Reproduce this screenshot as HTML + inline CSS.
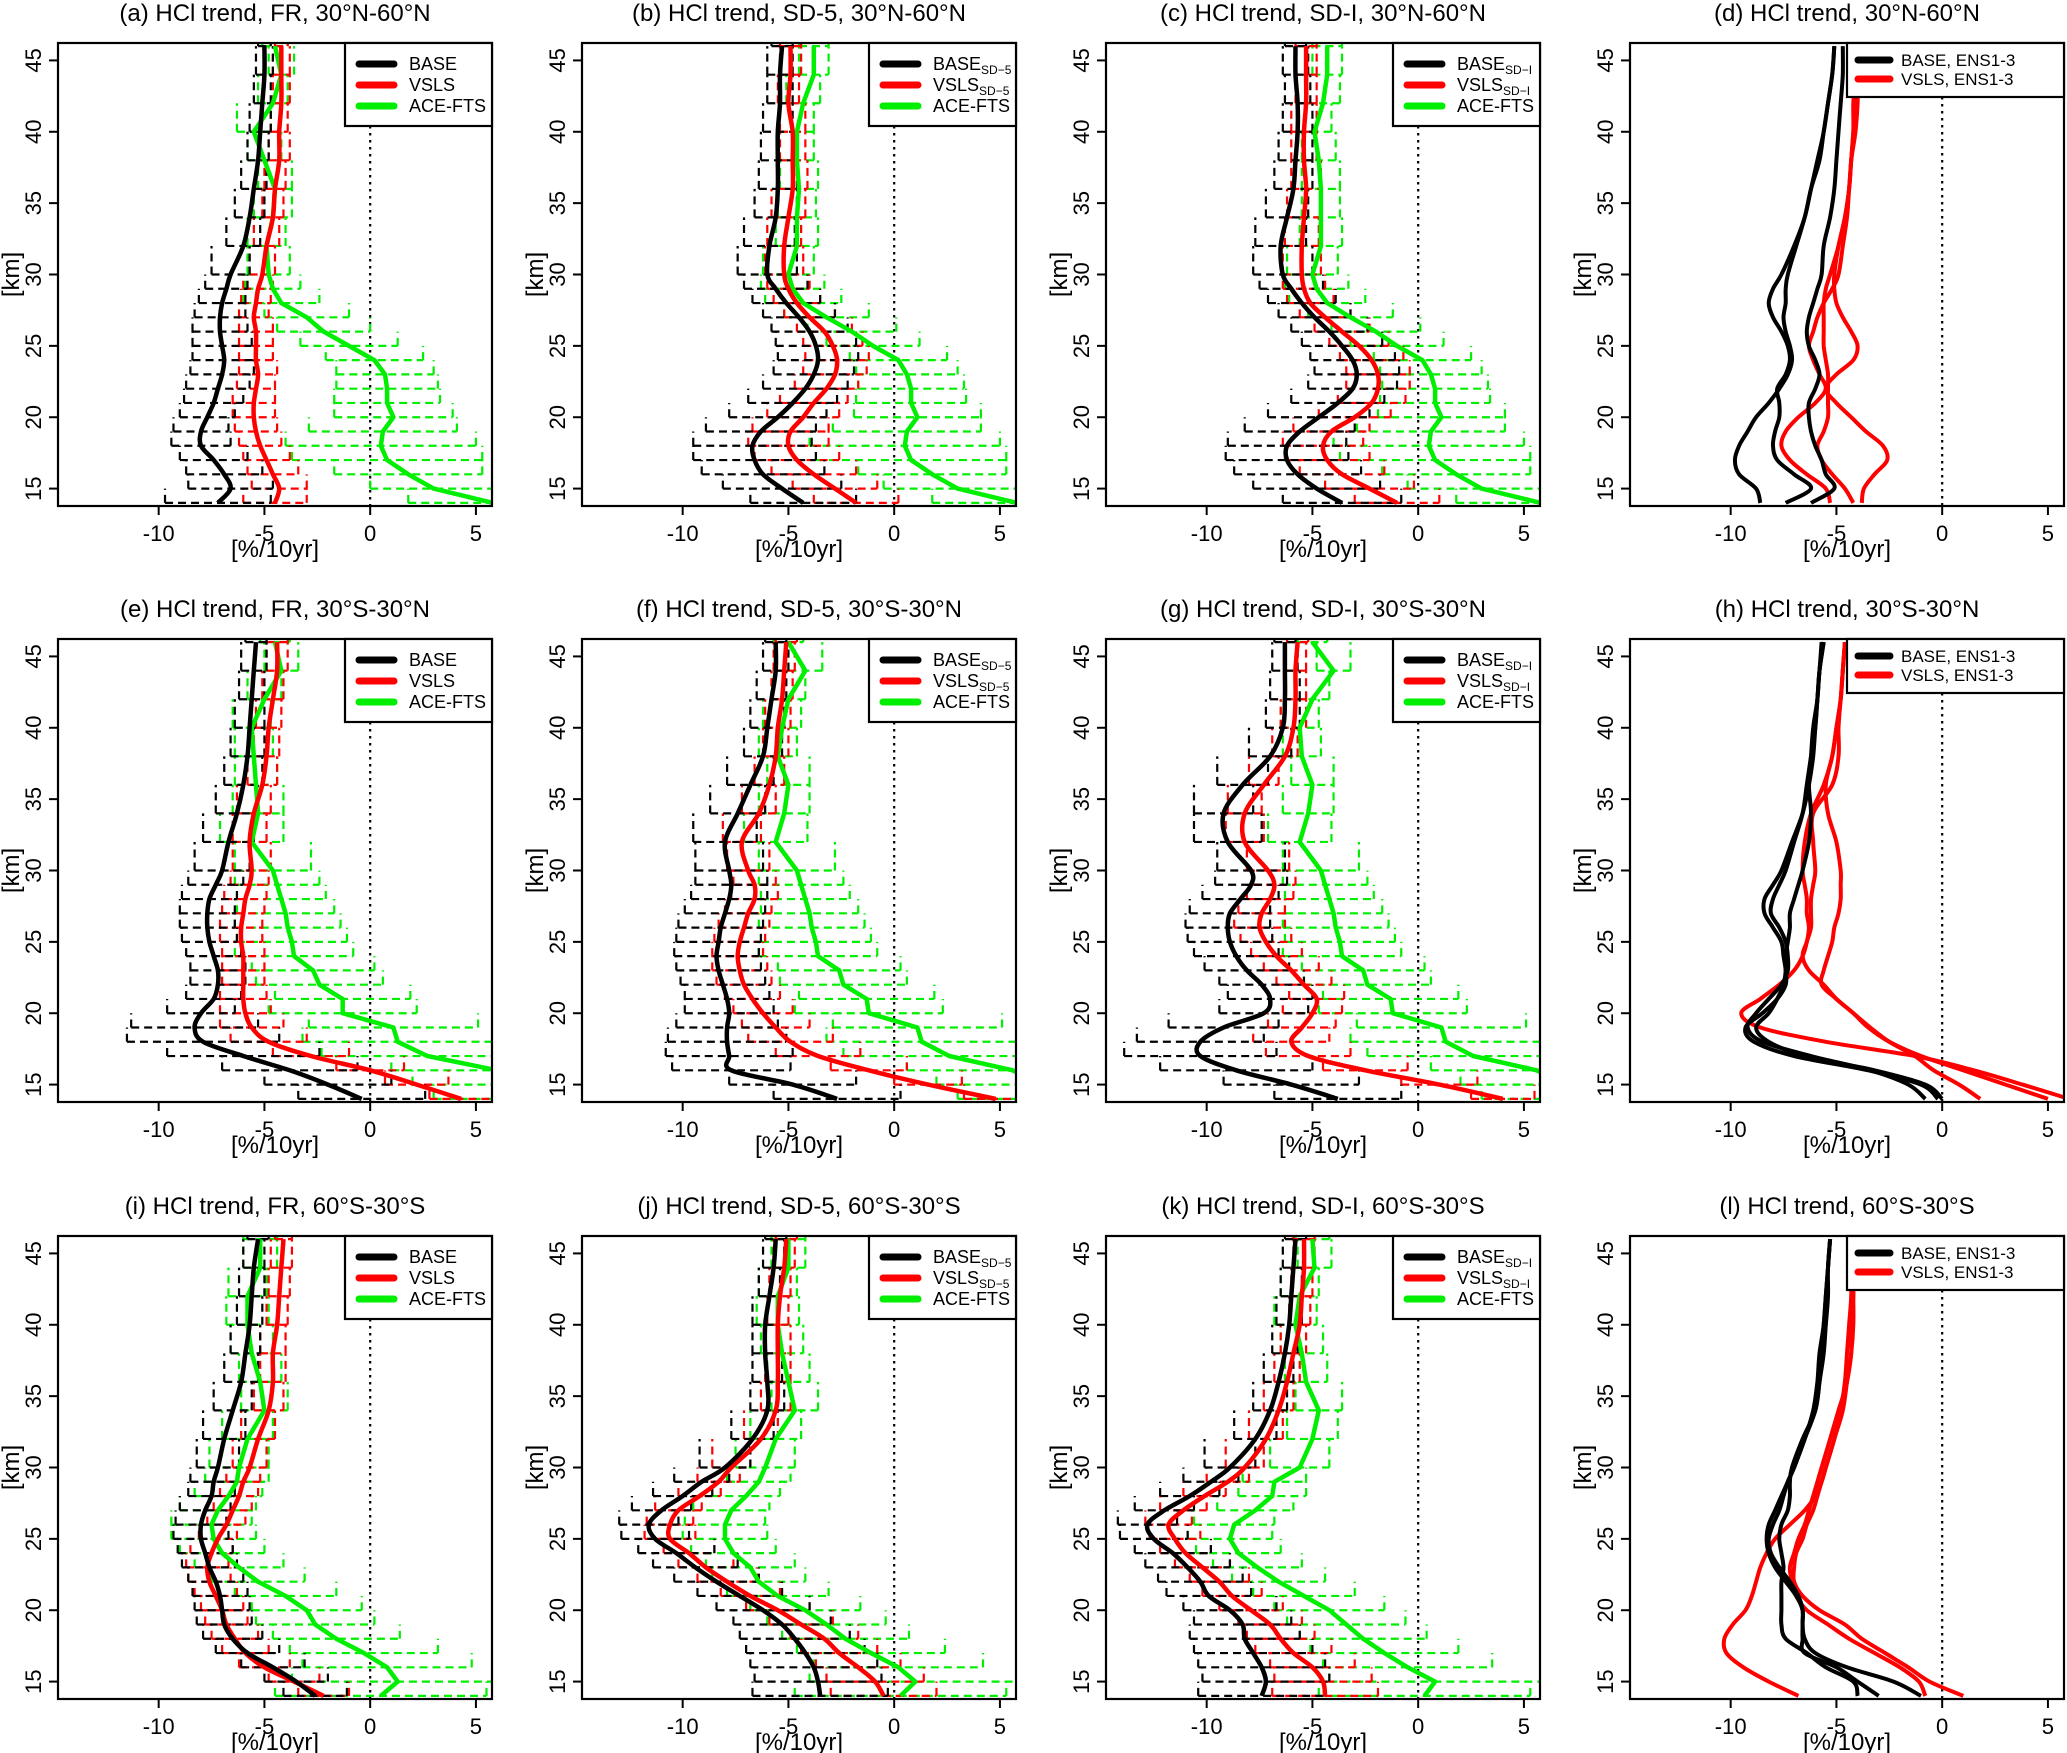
<!DOCTYPE html>
<html><head><meta charset="utf-8">
<style>
html,body{margin:0;padding:0;background:#fff;}
svg{display:block;font-family:"Liberation Sans",Arial,sans-serif;}
</style></head>
<body>
<svg id="fig" width="2067" height="1753" viewBox="0 0 2067 1753" xmlns="http://www.w3.org/2000/svg"></svg>
<script>
const alt=[14,15,16,17,18,19,20,21,22,23,24,25,26,27,28,29,30,32,34,36,38,40,42,44,46];
const xTicks=[-10,-5,0,5];
const yTicks=[15,20,25,30,35,40,45];
const xTickLabels=["-10","-5","0","5"];
const yTickLabels=["15","20","25","30","35","40","45"];

// (a)
const aBase=[-7.2,-6.6,-6.9,-7.4,-8.0,-8.0,-7.7,-7.4,-7.2,-7.0,-6.9,-7.0,-7.1,-7.1,-7.0,-6.8,-6.6,-6.0,-5.7,-5.5,-5.3,-5.2,-5.1,-5.0,-5.0];
const aVsls=[-4.5,-4.3,-4.6,-4.9,-5.2,-5.4,-5.5,-5.5,-5.4,-5.3,-5.4,-5.4,-5.4,-5.5,-5.4,-5.3,-5.1,-4.9,-4.6,-4.5,-4.3,-4.3,-4.2,-4.2,-4.2];
const aAce=[5.8,3.0,1.8,0.8,0.5,0.6,1.1,0.8,0.8,0.7,0.2,-1.0,-2.2,-3.0,-4.2,-4.6,-4.8,-4.9,-4.6,-4.5,-5.0,-5.5,-4.6,-4.2,-4.5];
const aBaseErr=[2.5,2.0,1.8,1.6,1.4,1.3,1.3,1.4,1.5,1.5,1.5,1.4,1.3,1.2,1.1,1.0,0.9,0.8,0.7,0.6,0.5,0.5,0.4,0.4,0.3];
const aVslsErr=[1.5,1.3,1.2,1.1,1.0,1.0,1.0,1.0,0.9,0.9,0.8,0.8,0.8,0.7,0.7,0.7,0.6,0.6,0.5,0.5,0.5,0.4,0.4,0.4,0.3];
const aAceErr=[4.0,3.0,3.5,4.5,4.5,3.5,2.8,2.5,2.4,2.3,2.3,2.3,2.2,2.0,1.8,1.3,1.0,0.9,0.9,0.8,0.8,0.8,0.7,0.6,0.6];
// (b)
const bBase=[-4.3,-5.3,-6.2,-6.6,-6.7,-6.3,-5.5,-4.8,-4.2,-3.8,-3.6,-3.7,-4.0,-4.5,-5.1,-5.6,-6.0,-5.9,-5.6,-5.5,-5.5,-5.5,-5.4,-5.4,-5.3];
const bVsls=[-1.8,-2.8,-3.8,-4.6,-5.0,-4.9,-4.3,-3.8,-3.2,-2.8,-2.7,-2.9,-3.3,-4.0,-4.6,-5.0,-5.2,-5.2,-5.0,-4.8,-4.8,-4.8,-5.0,-4.9,-4.9];
const bAce=[5.8,3.0,1.8,0.8,0.5,0.6,1.1,0.8,0.8,0.6,0.2,-1.0,-2.0,-3.2,-4.3,-4.8,-5.0,-4.6,-4.6,-4.5,-4.6,-4.6,-4.3,-3.8,-3.8];
const bBaseErr=[2.5,2.8,2.9,2.9,2.8,2.6,2.3,2.1,2.0,1.9,1.9,1.9,1.8,1.7,1.6,1.5,1.4,1.2,1.0,0.9,0.8,0.7,0.6,0.6,0.5];
const bVslsErr=[2.0,2.0,2.0,2.0,1.9,1.8,1.7,1.6,1.5,1.5,1.5,1.4,1.3,1.2,1.1,1.0,0.9,0.8,0.8,0.7,0.6,0.6,0.5,0.5,0.5];
const bAceErr=[4.0,3.5,3.5,4.5,4.5,3.5,3.0,2.6,2.5,2.4,2.3,2.2,2.1,2.0,1.8,1.5,1.2,1.0,0.9,0.9,0.8,0.8,0.8,0.7,0.7];
// (c)
const cBase=[-3.6,-4.8,-5.7,-6.2,-6.2,-5.6,-4.7,-3.8,-3.1,-2.9,-3.1,-3.6,-4.2,-4.9,-5.5,-6.0,-6.4,-6.5,-6.2,-5.9,-5.8,-5.7,-5.7,-5.8,-5.8];
const cVsls=[-1.0,-2.3,-3.6,-4.3,-4.5,-4.1,-3.0,-2.2,-1.9,-1.9,-2.2,-2.8,-3.6,-4.4,-5.1,-5.4,-5.5,-5.5,-5.4,-5.3,-5.4,-5.4,-5.3,-5.3,-5.3];
const cAce=[5.8,3.0,1.8,0.8,0.5,0.6,1.1,0.8,0.8,0.6,0.2,-1.0,-2.0,-3.2,-4.3,-4.8,-5.0,-4.6,-4.6,-4.6,-4.7,-4.9,-4.5,-4.3,-4.3];
const cBaseErr=[2.8,3.0,3.0,2.9,2.8,2.6,2.4,2.2,2.1,2.0,2.0,1.9,1.8,1.7,1.6,1.5,1.4,1.2,1.0,0.9,0.8,0.7,0.6,0.6,0.5];
const cVslsErr=[2.0,2.1,2.0,2.0,1.9,1.8,1.7,1.6,1.5,1.5,1.5,1.4,1.3,1.2,1.1,1.0,0.9,0.8,0.8,0.7,0.6,0.6,0.5,0.5,0.5];
const cAceErr=[4.0,3.5,3.5,4.5,4.5,3.5,3.0,2.6,2.5,2.4,2.3,2.2,2.1,2.0,1.8,1.5,1.2,1.0,0.9,0.9,0.8,0.8,0.8,0.7,0.7];
// (d) ensembles
const dBase1=[-8.6,-8.8,-9.6,-9.8,-9.6,-9.2,-8.8,-8.2,-7.7,-7.3,-7.1,-7.2,-7.4,-7.5,-7.4,-7.4,-7.3,-6.9,-6.5,-6.2,-5.8,-5.6,-5.4,-5.2,-5.1];
const dBase2=[-7.4,-6.2,-7.0,-7.8,-8.0,-7.9,-7.7,-7.7,-7.8,-7.4,-7.2,-7.3,-7.6,-8.0,-8.2,-8.0,-7.6,-7.0,-6.5,-6.2,-5.9,-5.6,-5.4,-5.2,-5.1];
const dBase3=[-6.2,-5.1,-5.5,-5.7,-6.0,-6.2,-6.3,-6.3,-6.0,-5.8,-6.0,-6.3,-6.4,-6.3,-6.1,-5.9,-5.7,-5.6,-5.3,-5.1,-5.0,-4.9,-4.8,-4.7,-4.7];
const dVsls1=[-5.3,-5.5,-6.4,-7.2,-7.6,-7.4,-6.8,-6.0,-5.5,-5.8,-6.1,-6.3,-6.1,-5.9,-5.6,-5.2,-4.9,-4.7,-4.5,-4.4,-4.3,-4.2,-4.2,-4.1,-4.1];
const dVsls2=[-3.8,-3.7,-3.2,-2.6,-2.8,-3.6,-4.3,-5.0,-5.5,-5.0,-4.2,-4.0,-4.3,-4.7,-5.0,-5.1,-5.1,-4.9,-4.6,-4.4,-4.3,-4.1,-4.0,-4.0,-4.0];
const dVsls3=[-4.2,-4.6,-5.2,-5.7,-5.9,-5.6,-5.4,-5.4,-5.4,-5.4,-5.5,-5.6,-5.6,-5.6,-5.6,-5.5,-5.3,-4.9,-4.6,-4.4,-4.3,-4.2,-4.1,-4.1,-4.1];
// (e)
const eBase=[-0.4,-2.0,-3.8,-6.0,-7.9,-8.3,-8.0,-7.4,-7.2,-7.2,-7.4,-7.6,-7.7,-7.7,-7.6,-7.3,-7.0,-6.7,-6.3,-6.0,-5.8,-5.7,-5.6,-5.5,-5.4];
const eVsls=[4.3,2.2,0.0,-2.8,-4.8,-5.6,-5.9,-6.0,-6.0,-6.0,-6.0,-6.1,-6.1,-6.0,-5.9,-5.7,-5.6,-5.7,-5.5,-5.1,-4.9,-4.8,-4.6,-4.4,-4.4];
const eAce=[8.0,7.0,6.0,2.7,1.3,1.1,-1.3,-1.3,-2.4,-2.7,-3.6,-3.7,-3.9,-4.0,-4.2,-4.4,-4.6,-5.6,-5.3,-5.4,-5.5,-5.6,-5.0,-4.2,-4.5];
const eBaseErr=[3.0,3.0,3.2,3.6,3.6,3.0,1.6,1.3,1.3,1.3,1.3,1.3,1.3,1.3,1.3,1.3,1.3,1.2,1.0,0.9,0.8,0.7,0.6,0.6,0.5];
const eVslsErr=[1.5,1.5,1.6,1.8,1.8,1.5,1.2,1.1,1.0,1.0,1.0,1.0,1.0,1.0,1.0,0.9,0.9,0.8,0.8,0.7,0.6,0.6,0.5,0.5,0.5];
const eAceErr=[5.0,5.0,5.0,5.0,4.5,4.0,3.5,3.2,3.0,2.9,2.8,2.6,2.5,2.3,2.1,2.0,1.8,1.5,1.2,1.0,0.9,0.9,0.8,0.8,0.7];
// (f)
const fBase=[-2.7,-4.8,-7.7,-7.8,-7.9,-7.9,-7.8,-7.9,-8.1,-8.3,-8.4,-8.3,-8.2,-8.0,-7.8,-7.7,-7.8,-8.0,-7.4,-6.8,-6.2,-6.0,-5.8,-5.6,-5.6];
const fVsls=[4.8,1.6,-1.2,-3.6,-4.9,-5.6,-6.2,-6.7,-7.1,-7.3,-7.4,-7.3,-7.1,-6.9,-6.6,-6.6,-6.9,-7.2,-6.4,-5.9,-5.6,-5.5,-5.3,-5.2,-5.1];
const fAce=[8.0,7.0,5.6,2.6,1.3,1.1,-1.2,-1.3,-2.4,-2.6,-3.6,-3.7,-3.9,-4.0,-4.2,-4.4,-4.6,-5.6,-5.2,-5.0,-5.5,-5.3,-5.0,-4.2,-5.0];
const fBaseErr=[3.0,3.0,2.8,3.0,2.8,2.4,2.1,2.0,2.0,2.0,2.0,2.0,2.0,1.9,1.8,1.7,1.6,1.5,1.3,1.1,0.9,0.8,0.7,0.6,0.5];
const fVslsErr=[1.5,1.6,1.8,2.0,2.0,1.6,1.4,1.3,1.3,1.3,1.2,1.2,1.2,1.1,1.1,1.0,1.0,0.9,0.8,0.7,0.6,0.6,0.5,0.5,0.5];
const fAceErr=[5.0,5.0,5.0,5.0,4.5,4.0,3.5,3.2,3.0,2.9,2.8,2.6,2.5,2.3,2.1,2.0,1.8,1.5,1.2,1.0,0.9,0.9,0.8,0.8,0.7];
// (g)
const gBase=[-3.8,-6.0,-8.6,-10.3,-10.3,-9.2,-7.3,-7.0,-7.4,-8.1,-8.6,-8.9,-9.0,-8.9,-8.4,-7.9,-7.9,-9.0,-9.2,-8.3,-7.0,-6.4,-6.3,-6.3,-6.3];
const gVsls=[4.0,1.0,-2.5,-5.2,-6.0,-5.5,-5.0,-4.8,-5.4,-6.0,-6.7,-7.2,-7.5,-7.4,-7.0,-6.8,-7.1,-8.2,-8.2,-7.3,-6.3,-5.9,-5.8,-5.8,-5.7];
const gAce=[8.0,7.0,5.6,2.6,1.3,1.1,-1.2,-1.3,-2.4,-2.6,-3.6,-3.7,-3.9,-4.0,-4.2,-4.4,-4.6,-5.6,-5.2,-5.0,-5.5,-5.6,-5.0,-4.0,-5.0];
const gBaseErr=[3.0,3.2,3.6,3.6,3.0,2.6,2.1,2.0,2.0,2.0,2.0,2.0,2.0,1.9,1.8,1.7,1.6,1.6,1.4,1.2,1.0,0.8,0.7,0.6,0.5];
const gVslsErr=[1.5,1.8,2.0,2.0,1.8,1.6,1.4,1.3,1.3,1.3,1.2,1.2,1.2,1.1,1.1,1.0,1.0,0.9,0.8,0.7,0.6,0.6,0.5,0.5,0.5];
const gAceErr=[5.0,5.0,5.0,5.0,4.5,4.0,3.5,3.2,3.0,2.9,2.8,2.6,2.5,2.3,2.1,2.0,1.8,1.5,1.2,1.0,0.9,0.9,0.8,0.8,0.7];
// (h) ensembles
const hBase1=[-0.2,-1.0,-3.5,-7.0,-8.9,-9.3,-8.5,-7.8,-7.4,-7.4,-7.5,-7.6,-8.0,-8.4,-8.4,-8.0,-7.6,-7.1,-6.6,-6.3,-6.1,-6.0,-5.9,-5.8,-5.6];
const hBase2=[0.0,-0.8,-3.2,-6.5,-8.2,-8.8,-8.2,-7.8,-7.5,-7.4,-7.4,-7.3,-7.2,-7.2,-7.0,-6.8,-6.6,-6.3,-6.2,-6.3,-6.2,-6.1,-5.9,-5.8,-5.6];
const hBase3=[-0.8,-1.6,-3.4,-6.2,-8.5,-9.2,-8.8,-8.2,-7.6,-7.3,-7.3,-7.4,-7.7,-8.1,-8.0,-7.7,-7.4,-7.0,-6.6,-6.4,-6.2,-6.0,-5.9,-5.8,-5.7];
const hVsls1=[5.0,3.0,1.0,-1.0,-2.5,-3.5,-4.2,-5.0,-5.6,-6.3,-6.6,-6.4,-6.2,-6.2,-6.2,-6.1,-6.0,-6.1,-6.1,-5.2,-4.9,-4.9,-4.8,-4.7,-4.6];
const hVsls2=[1.8,0.8,-0.4,-1.3,-2.5,-3.4,-4.2,-5.0,-5.7,-5.6,-5.4,-5.2,-5.1,-4.9,-4.8,-4.8,-4.8,-5.0,-5.4,-5.5,-5.2,-5.0,-4.8,-4.7,-4.6];
const hVsls3=[6.0,3.8,1.5,-1.3,-5.5,-8.6,-9.5,-8.6,-7.7,-7.0,-6.6,-6.4,-6.3,-6.4,-6.4,-6.5,-6.6,-6.5,-6.2,-5.6,-5.2,-5.0,-4.8,-4.7,-4.6];
// (i)
const iBase=[-2.6,-3.5,-4.6,-5.8,-6.5,-6.9,-7.0,-7.1,-7.3,-7.6,-7.8,-8.0,-8.0,-7.8,-7.5,-7.4,-7.2,-6.9,-6.5,-6.1,-5.9,-5.7,-5.6,-5.5,-5.3];
const iVsls=[-2.2,-3.6,-5.0,-5.9,-6.4,-6.8,-7.0,-7.3,-7.6,-7.7,-7.5,-7.2,-6.8,-6.5,-6.2,-6.0,-5.7,-5.3,-4.8,-4.6,-4.6,-4.4,-4.3,-4.2,-4.1];
const iAce=[0.5,1.3,0.8,-0.3,-1.6,-2.6,-3.0,-4.0,-5.3,-6.2,-7.0,-7.4,-7.5,-7.2,-6.7,-6.3,-6.2,-5.8,-5.0,-5.2,-5.6,-5.8,-5.8,-5.2,-5.2];
const iBaseErr=[1.5,1.5,1.5,1.5,1.4,1.3,1.3,1.3,1.3,1.3,1.3,1.3,1.2,1.2,1.1,1.1,1.0,1.0,0.9,0.8,0.7,0.6,0.6,0.5,0.5];
const iVslsErr=[1.2,1.2,1.2,1.1,1.1,1.0,1.0,1.0,1.0,1.0,1.0,0.9,0.9,0.9,0.9,0.8,0.8,0.8,0.7,0.6,0.6,0.5,0.5,0.5,0.4];
const iAceErr=[5.0,5.0,4.0,3.5,3.0,2.8,2.6,2.4,2.2,2.1,2.0,2.0,1.9,1.8,1.6,1.5,1.4,1.2,1.1,1.0,1.0,1.0,0.9,0.8,0.8];
// (j)
const jBase=[-3.5,-3.6,-3.8,-4.2,-4.7,-5.3,-6.2,-7.3,-8.4,-9.4,-10.3,-11.3,-11.6,-11.0,-10.0,-9.1,-8.0,-6.7,-6.0,-6.0,-6.1,-6.1,-5.9,-5.7,-5.6];
const jVsls=[-0.5,-0.9,-1.7,-2.6,-3.3,-4.4,-5.5,-6.8,-7.9,-8.9,-9.7,-10.6,-10.6,-10.2,-9.2,-8.3,-7.7,-6.3,-5.6,-5.5,-5.5,-5.5,-5.4,-5.2,-5.1];
const jAce=[0.3,1.0,0.2,-1.1,-2.3,-3.2,-4.2,-5.5,-6.4,-6.8,-7.6,-8.0,-8.0,-7.7,-7.0,-6.4,-6.1,-5.6,-4.7,-5.0,-5.3,-5.5,-5.5,-5.0,-5.0];
const jBaseErr=[3.2,3.0,3.0,2.8,2.6,2.3,2.2,2.0,2.0,2.0,1.8,1.6,1.4,1.4,1.4,1.3,1.2,1.0,0.8,0.7,0.6,0.6,0.5,0.5,0.5];
const jVslsErr=[2.5,2.3,2.0,1.8,1.6,1.5,1.5,1.4,1.4,1.3,1.2,1.2,1.1,1.1,1.0,1.0,0.9,0.8,0.7,0.6,0.6,0.5,0.5,0.5,0.5];
const jAceErr=[5.0,5.0,4.0,3.5,3.0,2.8,2.6,2.4,2.2,2.1,2.0,2.0,1.9,1.8,1.6,1.5,1.4,1.2,1.1,1.0,1.0,1.0,0.9,0.8,0.8];
// (k)
const kBase=[-7.4,-7.2,-7.4,-7.8,-8.2,-8.3,-8.9,-9.9,-10.3,-10.9,-11.6,-12.5,-12.8,-12.0,-10.8,-9.8,-8.9,-7.7,-7.0,-6.6,-6.3,-6.1,-6.0,-5.9,-5.8];
const kVsls=[-4.4,-4.5,-5.0,-5.9,-6.5,-7.0,-7.9,-8.8,-9.4,-10.2,-11.0,-11.5,-11.8,-11.1,-10.1,-9.0,-8.2,-7.2,-6.6,-6.2,-5.9,-5.6,-5.5,-5.4,-5.4];
const kAce=[0.3,0.8,-0.5,-1.6,-2.6,-3.4,-4.2,-5.4,-6.6,-7.6,-8.5,-8.9,-8.7,-7.7,-6.9,-6.8,-5.6,-5.0,-4.7,-5.3,-5.5,-5.8,-5.6,-4.9,-5.0];
const kBaseErr=[3.0,3.0,3.0,2.8,2.6,2.3,2.2,2.0,2.0,2.0,1.8,1.6,1.4,1.4,1.4,1.3,1.2,1.0,0.8,0.7,0.6,0.6,0.5,0.5,0.5];
const kVslsErr=[2.5,2.3,2.0,1.8,1.6,1.5,1.5,1.4,1.4,1.3,1.2,1.2,1.1,1.1,1.0,1.0,0.9,0.8,0.7,0.6,0.6,0.5,0.5,0.5,0.5];
const kAceErr=[5.0,5.0,4.0,3.5,3.0,2.8,2.6,2.4,2.2,2.1,2.0,2.0,1.9,1.8,1.6,1.5,1.4,1.2,1.1,1.0,1.0,1.0,0.9,0.8,0.8];
// (l) ensembles
const lBase1=[-4.0,-4.2,-5.5,-6.4,-7.4,-7.6,-7.6,-7.6,-7.6,-7.5,-7.6,-7.7,-7.6,-7.3,-7.2,-7.2,-7.1,-6.6,-6.0,-5.8,-5.7,-5.6,-5.5,-5.4,-5.3];
const lBase2=[-1.0,-2.3,-4.5,-6.0,-6.5,-6.6,-6.6,-6.9,-7.4,-7.9,-8.2,-8.3,-8.2,-7.9,-7.6,-7.3,-7.0,-6.5,-6.1,-5.9,-5.8,-5.6,-5.5,-5.4,-5.3];
const lBase3=[-3.0,-4.0,-5.0,-6.5,-6.6,-6.6,-6.6,-6.8,-7.2,-7.7,-8.1,-8.2,-8.0,-7.7,-7.5,-7.3,-7.0,-6.5,-6.0,-5.8,-5.6,-5.5,-5.4,-5.4,-5.3];
const lVsls1=[-6.8,-8.2,-9.4,-10.2,-10.3,-9.9,-9.3,-9.0,-8.8,-8.6,-8.3,-7.9,-7.2,-6.5,-6.0,-5.7,-5.5,-5.1,-4.7,-4.5,-4.3,-4.3,-4.2,-4.2,-4.2];
const lVsls2=[1.0,-0.6,-1.6,-2.7,-3.8,-4.6,-5.8,-6.6,-7.0,-7.0,-6.9,-6.6,-6.4,-6.1,-5.9,-5.7,-5.5,-5.1,-4.8,-4.6,-4.5,-4.4,-4.3,-4.3,-4.3];
const lVsls3=[-0.8,-1.1,-2.0,-3.2,-4.4,-5.4,-6.4,-6.9,-7.1,-7.2,-7.0,-6.8,-6.5,-6.3,-6.1,-5.9,-5.7,-5.3,-4.9,-4.5,-4.3,-4.2,-4.2,-4.2,-4.3];

const COLS=[58,582,1106,1630], ROWS=[43,639,1236], W=434, H=463;
const XMIN=-14.76, XMAX=5.76, YMIN=13.78, YMAX=46.22;
const NS="http://www.w3.org/2000/svg";
const svg=document.getElementById('fig');
const GREEN="#00ee00", RED="#ff0000";

function mk(tag,attrs,parent){const e=document.createElementNS(NS,tag);for(const k in attrs)e.setAttribute(k,attrs[k]);parent.appendChild(e);return e;}

const panels=[
 {id:'a',r:0,c:0,title:'(a) HCl trend, FR, 30°N-60°N',sub:'',base:aBase,vsls:aVsls,ace:aAce,be:aBaseErr,ve:aVslsErr,ae:aAceErr},
 {id:'b',r:0,c:1,title:'(b) HCl trend, SD-5, 30°N-60°N',sub:'SD−5',base:bBase,vsls:bVsls,ace:bAce,be:bBaseErr,ve:bVslsErr,ae:bAceErr},
 {id:'c',r:0,c:2,title:'(c) HCl trend, SD-I, 30°N-60°N',sub:'SD−I',base:cBase,vsls:cVsls,ace:cAce,be:cBaseErr,ve:cVslsErr,ae:cAceErr},
 {id:'d',r:0,c:3,title:'(d) HCl trend, 30°N-60°N',ens:true,blk:[dBase1,dBase2,dBase3],red:[dVsls1,dVsls2,dVsls3]},
 {id:'e',r:1,c:0,title:'(e) HCl trend, FR, 30°S-30°N',sub:'',base:eBase,vsls:eVsls,ace:eAce,be:eBaseErr,ve:eVslsErr,ae:eAceErr},
 {id:'f',r:1,c:1,title:'(f) HCl trend, SD-5, 30°S-30°N',sub:'SD−5',base:fBase,vsls:fVsls,ace:fAce,be:fBaseErr,ve:fVslsErr,ae:fAceErr},
 {id:'g',r:1,c:2,title:'(g) HCl trend, SD-I, 30°S-30°N',sub:'SD−I',base:gBase,vsls:gVsls,ace:gAce,be:gBaseErr,ve:gVslsErr,ae:gAceErr},
 {id:'h',r:1,c:3,title:'(h) HCl trend, 30°S-30°N',ens:true,blk:[hBase1,hBase2,hBase3],red:[hVsls1,hVsls2,hVsls3]},
 {id:'i',r:2,c:0,title:'(i) HCl trend, FR, 60°S-30°S',sub:'',base:iBase,vsls:iVsls,ace:iAce,be:iBaseErr,ve:iVslsErr,ae:iAceErr},
 {id:'j',r:2,c:1,title:'(j) HCl trend, SD-5, 60°S-30°S',sub:'SD−5',base:jBase,vsls:jVsls,ace:jAce,be:jBaseErr,ve:jVslsErr,ae:jAceErr},
 {id:'k',r:2,c:2,title:'(k) HCl trend, SD-I, 60°S-30°S',sub:'SD−I',base:kBase,vsls:kVsls,ace:kAce,be:kBaseErr,ve:kVslsErr,ae:kAceErr},
 {id:'l',r:2,c:3,title:'(l) HCl trend, 60°S-30°S',ens:true,blk:[lBase1,lBase2,lBase3],red:[lVsls1,lVsls2,lVsls3]}
];

function smoothPath(pts){
  let d='M'+pts[0][0].toFixed(1)+','+pts[0][1].toFixed(1);
  for(let i=0;i<pts.length-1;i++){
    const p0=pts[Math.max(0,i-1)],p1=pts[i],p2=pts[i+1],p3=pts[Math.min(pts.length-1,i+2)];
    const c1=[p1[0]+(p2[0]-p0[0])/6,p1[1]+(p2[1]-p0[1])/6];
    const c2=[p2[0]-(p3[0]-p1[0])/6,p2[1]-(p3[1]-p1[1])/6];
    d+=' C'+c1[0].toFixed(1)+','+c1[1].toFixed(1)+' '+c2[0].toFixed(1)+','+c2[1].toFixed(1)+' '+p2[0].toFixed(1)+','+p2[1].toFixed(1);
  }
  return d;
}
function linePath(pts){return 'M'+pts.map(p=>p[0].toFixed(1)+','+p[1].toFixed(1)).join(' L');}

panels.forEach(p=>{
  const L=COLS[p.c], T=ROWS[p.r];
  const sx=v=>L+(v-XMIN)/(XMAX-XMIN)*W;
  const sy=v=>T+H-(v-YMIN)/(YMAX-YMIN)*H;
  const g=mk('g',{},svg);
  
  
  const cp=mk('clipPath',{id:'clip-'+p.id},g);
  mk('rect',{x:L,y:T,width:W,height:H},cp);

  const t=mk('text',{x:L+W/2,y:T-22,'text-anchor':'middle','font-size':24,fill:'#000'},g);
  t.textContent=p.title;
  
  

  const xa=mk('g',{},g);
  
  
  xTicks.forEach((v,i)=>{
    mk('line',{x1:sx(v),x2:sx(v),y1:T+H,y2:T+H+9,stroke:'#000','stroke-width':2},xa);
    const tl=mk('text',{x:sx(v),y:T+H+35,'text-anchor':'middle','font-size':22,fill:'#000'},xa);
    tl.textContent=xTickLabels[i];
    
    
  });
  const xl=mk('text',{x:L+W/2,y:T+H+51,'text-anchor':'middle','font-size':24,fill:'#000'},xa);
  xl.textContent='[%/10yr]';
  
  
  const ya=mk('g',{},g);
  
  
  yTicks.forEach((v,i)=>{
    mk('line',{x1:L-9,x2:L,y1:sy(v),y2:sy(v),stroke:'#000','stroke-width':2},ya);
    const tl=mk('text',{x:L-17,y:sy(v),'text-anchor':'middle','font-size':22,fill:'#000',transform:'rotate(-90 '+(L-17)+' '+sy(v)+')'},ya);
    tl.textContent=yTickLabels[i];
    
    
  });
  const yl=mk('text',{x:L-39,y:T+H/2,'text-anchor':'middle','font-size':24,fill:'#000',transform:'rotate(-90 '+(L-39)+' '+(T+H/2)+')'},ya);
  yl.textContent='[km]';
  
  

  const legH=p.ens?54:83, legW=p.ens?217:147;
  const zl=mk('line',{x1:sx(0),x2:sx(0),y1:T+legH,y2:T+H,stroke:'#000','stroke-width':2.2,'stroke-dasharray':'2.5 4.5'},g);
  
  

  const plot=mk('g',{'clip-path':'url(#clip-'+p.id+')'},g);
  
  

  const pts=arr=>alt.map((z,i)=>[sx(arr[i]),sy(z)]);

  if(!p.ens){
    const drawErr=(m,e,col,name)=>{
      const eg=mk('g',{stroke:col,'stroke-width':2.2,'stroke-dasharray':'8 5',fill:'none'},plot);
      
      
      alt.forEach((z,i)=>{
        const lo=m[i]-e[i], hi=m[i]+e[i];
        mk('line',{x1:sx(lo),x2:sx(hi),y1:sy(z),y2:sy(z)},eg);
        const z2=i<alt.length-1?alt[i+1]:z+1;
        mk('line',{x1:sx(lo),x2:sx(lo),y1:sy(z),y2:sy(z2)},eg);
        mk('line',{x1:sx(hi),x2:sx(hi),y1:sy(z),y2:sy(z2)},eg);
      });
    };
    drawErr(p.ace,p.ae,GREEN,'ace-fts-uncertainty');
    drawErr(p.vsls,p.ve,RED,'vsls-uncertainty');
    drawErr(p.base,p.be,'#000','base-uncertainty');
    const la=mk('path',{d:linePath(pts(p.ace)),stroke:GREEN,'stroke-width':4.5,fill:'none','stroke-linejoin':'round'},plot);
    
    
    const lv=mk('path',{d:smoothPath(pts(p.vsls)),stroke:RED,'stroke-width':4.5,fill:'none'},plot);
    
    
    const lb=mk('path',{d:smoothPath(pts(p.base)),stroke:'#000','stroke-width':4.5,fill:'none'},plot);
    
    
  } else {
    p.red.forEach((arr,k)=>{
      const l=mk('path',{d:smoothPath(pts(arr)),stroke:RED,'stroke-width':4,fill:'none'},plot);
      
      
    });
    p.blk.forEach((arr,k)=>{
      const l=mk('path',{d:smoothPath(pts(arr)),stroke:'#000','stroke-width':4,fill:'none'},plot);
      
      
    });
  }

  const fr=mk('rect',{x:L,y:T,width:W,height:H,fill:'none',stroke:'#000','stroke-width':2.2},g);
  
  

  const lg=mk('g',{},g);
  
  
  const LX=L+W-legW;
  mk('rect',{x:LX,y:T,width:legW,height:legH,fill:'#fff',stroke:'#000','stroke-width':2.2},lg);
  let entries;
  if(p.ens) entries=[['BASE, ENS1-3','',"#000"],['VSLS, ENS1-3','',RED]];
  else entries=[['BASE',p.sub,'#000'],['VSLS',p.sub,RED],['ACE-FTS','',GREEN]];
  entries.forEach((en,i)=>{
    const yy=p.ens?T+17+i*19:T+21+i*21;
    const x0=p.ens?LX+11:LX+14, x1=p.ens?LX+43:LX+49, tx=p.ens?LX+54:LX+64;
    const eg=mk('g',{},lg);
    
    
    mk('line',{x1:x0,x2:x1,y1:yy,y2:yy,stroke:en[2],'stroke-width':7,'stroke-linecap':'round'},eg);
    const tx_=mk('text',{x:tx,y:yy+6,'font-size':p.ens?17:18,fill:'#000'},eg);
    tx_.textContent=en[0];
    if(en[1]){
      const ts=mk('tspan',{'font-size':12,dy:4},tx_);
      ts.textContent=en[1];
    }
  });
});
</script>
</body></html>
